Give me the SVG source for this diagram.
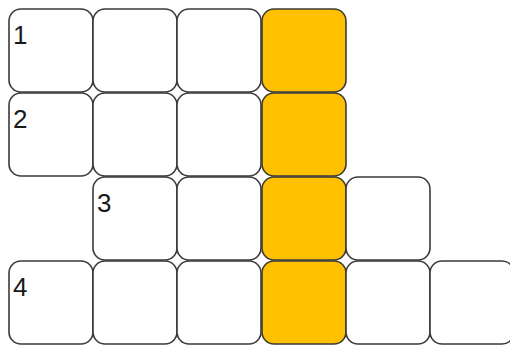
<svg xmlns="http://www.w3.org/2000/svg" width="510" height="345" viewBox="0 0 510 345">
<style>
.c{fill:#ffffff;stroke:#3a3a3a;stroke-width:1.6}
.y{fill:#FFC000;stroke:#3a3a3a;stroke-width:1.6}
.t{font-family:"Liberation Sans",Arial,sans-serif;font-size:26px;fill:#1a1a1a}
</style>
<defs>
<rect id="cell" width="84" height="83" rx="12" ry="12"/>
</defs>
<rect width="510" height="345" fill="#ffffff"/>
<g id="row1">
<use href="#cell" class="c" x="9" y="9"/>
<use href="#cell" class="c" x="93" y="9"/>
<use href="#cell" class="c" x="177" y="9"/>
<use href="#cell" class="y" x="262" y="9"/>
<text class="t" x="13" y="44">1</text>
</g>
<g id="row2">
<use href="#cell" class="c" x="9" y="93"/>
<use href="#cell" class="c" x="93" y="93"/>
<use href="#cell" class="c" x="177" y="93"/>
<use href="#cell" class="y" x="262" y="93"/>
<text class="t" x="13" y="128">2</text>
</g>
<g id="row3">
<use href="#cell" class="c" x="93" y="177"/>
<use href="#cell" class="c" x="177" y="177"/>
<use href="#cell" class="y" x="262" y="177"/>
<use href="#cell" class="c" x="346" y="177"/>
<text class="t" x="97" y="212">3</text>
</g>
<g id="row4">
<use href="#cell" class="c" x="9" y="261"/>
<use href="#cell" class="c" x="93" y="261"/>
<use href="#cell" class="c" x="177" y="261"/>
<use href="#cell" class="y" x="262" y="261"/>
<use href="#cell" class="c" x="346" y="261"/>
<use href="#cell" class="c" x="430" y="261"/>
<text class="t" x="13" y="296">4</text>
</g>
</svg>
